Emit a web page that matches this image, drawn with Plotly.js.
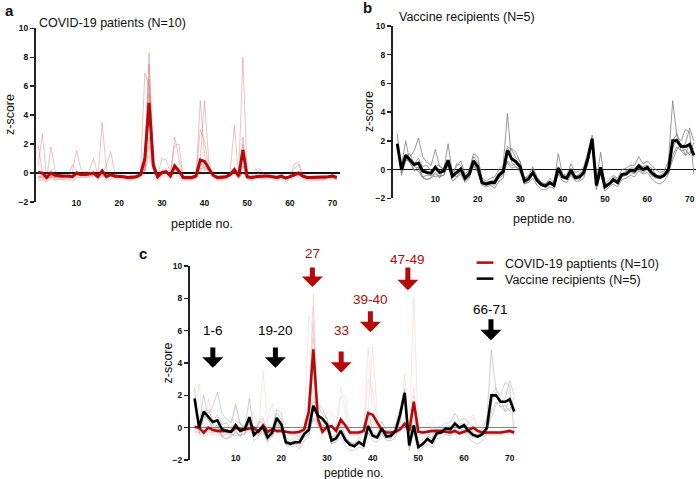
<!DOCTYPE html>
<html>
<head>
<meta charset="utf-8">
<script src="https://cdn.plot.ly/plotly-3.0.1.min.js"></script>
<style>html,body{margin:0;padding:0;background:#fff;}#chart{width:696px;height:479px;}</style>
</head>
<body>
<div id="chart"></div>
<script>
// ---- data ----
const peptides = [1,2,3,4,5,6,7,8,9,10,11,12,13,14,15,16,17,18,19,20,21,22,23,24,25,26,27,28,29,30,31,32,33,34,35,36,37,38,39,40,41,42,43,44,45,46,47,48,49,50,51,52,53,54,55,56,57,58,59,60,61,62,63,64,65,66,67,68,69,70,71];
const xTicks = [10,20,30,40,50,60,70];
const yTicks = [-2,0,2,4,6,8,10];

// COVID-19 patients: mean z-score
const covidMean = [0.05,0.0,-0.3,0.0,-0.15,-0.2,-0.2,-0.2,-0.25,0.0, -0.1,-0.1,-0.05,0.0,-0.25,0.15,-0.25,-0.1,-0.2,-0.2, -0.25,-0.3,-0.3,-0.25,-0.1,1.0,4.85,0.55,-0.25,0.05, 0.1,-0.2,0.5,0.15,-0.3,-0.3,-0.3,-0.2,0.9,0.8, 0.3,-0.15,-0.3,-0.3,-0.25,-0.1,0.25,-0.2,1.6,-0.25, -0.3,-0.25,-0.2,-0.2,-0.2,-0.25,-0.3,-0.2,-0.35,-0.25, -0.15,0.0,-0.2,-0.3,-0.3,-0.3,-0.3,-0.3,-0.25,-0.2,-0.3];
// COVID-19 patients: individuals
const p1 = [2.0,0.0,-0.4,-0.2,-0.3,-0.3,-0.3,-0.2,-0.3,-0.1, -0.2,-0.2,-0.1,-0.1,-0.3,0.0,-0.3,-0.2,-0.3,-0.3, -0.3,-0.4,-0.4,-0.3,-0.1,1.2,8.3,1.0,-0.3,0.0, 0.1,-0.3,0.5,0.2,-0.4,-0.4,-0.4,-0.3,5.0,1.2, 0.3,-0.2,-0.4,-0.4,-0.3,-0.2,0.2,-0.3,8.0,-0.3, -0.4,-0.3,-0.3,-0.3,-0.3,-0.3,-0.4,-0.3,-0.4,-0.3, -0.2,0.0,-0.3,-0.4,-0.4,-0.4,-0.4,-0.4,-0.3,-0.3,-0.4];
const p2 = [0.5,2.7,-0.3,0.0,-0.2,-0.3,-0.3,-0.3,-0.3,0.0, -0.1,-0.2,-0.1,0.0,-0.3,0.1,-0.3,-0.1,-0.3,-0.3, -0.3,-0.3,-0.3,-0.3,0.0,6.9,6.0,0.8,-0.3,0.1, 0.1,-0.2,0.4,0.1,-0.3,-0.3,-0.3,-0.2,1.0,5.0, 0.8,-0.2,-0.3,-0.3,-0.3,0.0,3.3,-0.3,2.5,-0.3, -0.3,-0.3,-0.2,-0.2,-0.2,-0.3,-0.3,-0.2,-0.4,-0.3, -0.2,0.0,-0.2,-0.3,-0.3,-0.3,-0.3,-0.3,-0.3,-0.2,-0.3];
const p3 = [-0.3,-0.2,-0.4,1.8,0.2,-0.3,-0.3,-0.3,-0.3,0.0, -0.2,-0.1,0.0,0.0,-0.3,3.5,0.2,-0.2,-0.3,-0.3, -0.3,-0.4,-0.4,-0.3,-0.2,0.8,7.5,0.6,-0.3,0.0, 0.0,-0.3,0.4,0.1,-0.4,-0.4,-0.4,-0.3,3.0,2.2, 0.4,-0.2,-0.4,-0.4,-0.3,-0.2,0.1,-0.3,2.0,-0.3, -0.4,-0.3,-0.3,-0.3,-0.3,-0.3,-0.4,-0.3,-0.4,-0.3, -0.2,-0.1,-0.3,-0.4,-0.4,-0.4,-0.4,-0.4,-0.3,-0.3,-0.4];
const p4 = [-0.2,-0.3,-0.4,-0.2,-0.3,-0.3,-0.3,-0.2,0.1,1.55, 0.3,-0.2,-0.2,-0.1,-0.3,0.0,0.5,1.5,0.0,-0.3, -0.3,-0.4,-0.4,-0.3,-0.2,0.5,6.5,0.5,-0.3,0.2, 0.3,-0.2,2.5,1.0,-0.4,-0.4,-0.4,-0.3,0.5,0.8, 0.4,-0.2,-0.4,-0.4,-0.3,-0.1,0.3,-0.3,1.5,-0.3, -0.4,-0.3,-0.2,-0.2,-0.2,-0.3,-0.4,-0.2,-0.4,-0.3, -0.1,0.0,-0.2,-0.3,-0.4,-0.4,-0.3,-0.4,-0.3,-0.2,-0.4];
const p5 = [0.1,0.0,-0.3,0.2,-0.1,-0.2,-0.2,-0.2,-0.2,0.1, -0.1,0.0,0.2,1.0,-0.2,0.2,-0.2,0.0,-0.1,-0.2, -0.2,-0.3,-0.3,-0.2,-0.1,0.6,5.5,0.4,-0.2,1.0, 0.9,0.0,1.9,2.0,-0.3,-0.3,-0.3,-0.2,0.6,0.5, 0.2,-0.1,-0.3,-0.3,-0.2,-0.1,0.2,-0.2,1.0,-0.2, -0.3,-0.2,-0.2,-0.2,-0.2,-0.2,-0.3,-0.2,-0.3,-0.2, -0.1,0.1,-0.2,-0.3,-0.3,-0.3,-0.3,-0.3,-0.2,-0.2,-0.3];
const p6 = [-0.4,-0.4,-0.5,-0.3,-0.4,-0.4,-0.4,-0.3,0.55,0.2, -0.2,-0.2,-0.2,-0.1,-0.4,0.0,-0.4,-0.2,-0.3,-0.3, -0.3,-0.4,-0.4,-0.3,-0.2,0.3,4.8,0.3,-0.4,-0.1, 0.0,-0.3,0.3,0.0,-0.4,-0.4,-0.4,-0.3,0.5,0.4, 0.2,-0.2,-0.4,-0.4,-0.3,-0.2,0.0,-0.3,0.5,-0.4, -0.4,-0.3,0.3,-0.1,-0.3,-0.3,-0.4,-0.3,-0.4,-0.3, 0.6,0.8,0.0,-0.3,-0.4,-0.4,-0.4,-0.4,-0.3,-0.3,-0.4];
const p7 = [0.0,-0.2,-0.3,-0.1,-0.2,-0.2,-0.2,-0.2,-0.3,-0.1, -0.1,0.1,0.0,0.1,-0.2,0.1,-0.2,-0.1,-0.2,-0.2, -0.2,-0.3,-0.3,-0.2,-0.1,0.4,4.0,0.3,-0.2,0.0, 0.1,-0.2,0.3,0.0,-0.3,-0.3,-0.3,-0.2,0.3,0.3, 0.2,-0.1,-0.3,-0.3,-0.2,-0.1,0.2,-0.2,0.5,-0.2, -0.3,0.3,-0.2,-0.2,-0.2,-0.2,-0.3,-0.2,-0.3,-0.2, 0.3,0.6,-0.2,-0.3,-0.3,-0.3,-0.3,-0.3,-0.2,-0.1,-0.3];
const p8 = [-0.5,-0.5,-0.6,-0.4,-0.5,-0.4,-0.5,-0.4,-0.6,-0.3, -0.3,-0.3,-0.3,-0.2,-0.5,-0.2,-0.5,-0.4,-0.4,-0.4, -0.4,-0.5,-0.5,-0.4,-0.3,0.2,2.5,0.2,-0.5,-0.2, -0.2,-0.4,0.0,-0.3,-0.5,-0.5,-0.5,-0.4,0.1,0.0, 0.0,-0.3,-0.5,-0.5,-0.4,-0.3,0.0,-0.4,0.0,-0.4, -0.5,-0.4,-0.4,-0.4,-0.4,-0.4,-0.5,-0.4,-0.6,-0.4, -0.3,-0.2,-0.4,-0.5,-0.5,-0.5,-0.5,-0.5,-0.4,-0.4,-0.5];
const p9 = [-0.3,-0.3,-0.4,-0.3,-0.3,-0.2,-0.2,-0.3,-0.4,-0.2, -0.2,-0.1,-0.2,-0.1,-0.3,-0.1,-0.3,-0.2,-0.3,-0.2, -0.3,-0.3,-0.3,-0.3,-0.2,0.1,1.2,0.2,-0.3,-0.1, 0.0,-0.3,0.2,0.0,-0.3,-0.3,-0.3,-0.2,0.2,0.2, 0.1,-0.2,-0.3,-0.3,-0.3,-0.2,0.1,-0.3,0.0,-0.3, -0.3,-0.3,-0.3,-0.3,-0.2,-0.3,-0.3,-0.3,-0.4,-0.3, -0.2,-0.1,-0.3,-0.3,-0.3,-0.3,-0.3,-0.3,-0.3,-0.2,-0.3];
const p10 = [0.1,-0.1,-0.2,0.0,-0.1,-0.2,-0.2,-0.2,-0.2,0.0, -0.1,-0.1,-0.1,0.0,-0.2,0.0,-0.2,-0.1,-0.2,-0.2, -0.2,-0.2,-0.2,-0.2,-0.1,0.2,1.9,0.3,-0.2,0.0, 0.1,-0.1,0.3,0.1,-0.2,-0.2,-0.2,-0.1,0.3,0.4, 0.2,-0.1,-0.2,-0.2,-0.2,-0.1,0.1,-0.2,0.0,-0.2, -0.2,-0.2,-0.2,-0.2,-0.2,-0.2,-0.2,-0.2,-0.3,-0.2, -0.1,0.0,-0.2,-0.2,-0.2,-0.2,-0.2,-0.2,-0.2,-0.1,-0.2];

// Vaccine recipients: mean z-score
const vaccMean = [1.8,0.0,1.0,0.7,0.35,0.45,-0.1,-0.2,-0.25,0.15, -0.2,-0.1,0.65,-0.45,-0.2,0.05,-0.6,-0.3,0.6,0.2, -0.9,-1.0,-0.9,-0.9,-0.4,-0.15,1.35,0.75,0.55,0.2, -0.8,-0.65,-0.2,-0.75,-1.05,-1.15,-0.9,-1.1,0.1,-0.5, -0.6,-0.05,-0.55,-0.5,-0.2,0.8,2.15,-1.1,0.15,-1.2, -1.0,-0.7,-0.9,-0.35,-0.3,-0.05,-0.1,0.25,0.0,0.15, -0.2,-0.45,-0.55,-0.4,0.0,2.0,2.0,1.6,1.6,1.75,1.0];
// Vaccine recipients: individuals
const v1 = [2.5,-0.4,0.6,0.9,1.3,2.2,0.9,0.5,0.3,1.4, 0.2,0.0,1.8,-0.2,0.2,0.6,-0.3,0.0,1.1,0.9, -0.6,-0.8,-0.6,-0.5,0.0,0.3,3.9,0.5,0.2,0.0, -0.6,-0.4,0.2,-0.5,-0.9,-1.0,-0.6,-0.9,1.1,-0.3, -0.4,0.4,-0.2,-0.1,0.2,1.2,2.4,-0.8,1.2,-1.0, -0.7,-0.4,-0.6,0.0,0.1,0.3,0.3,0.9,0.4,0.6, 0.3,0.0,-0.2,-0.1,0.6,4.8,2.3,2.0,2.8,2.6,-0.3];
const v2 = [1.6,0.3,2.0,0.5,0.2,0.1,-0.5,-0.7,-0.6,-0.3, -0.5,-0.4,0.3,-0.8,-0.6,-0.3,-0.9,-0.6,0.3,-0.1, -1.1,-1.2,-1.1,-1.3,-0.8,-0.6,1.0,1.5,1.2,0.5, -1.0,-0.9,-0.6,-1.1,-1.4,-1.4,-1.2,-1.3,-0.3,-0.8, -0.9,-0.4,-0.8,-0.8,-0.6,0.4,2.0,-1.4,-0.3,-1.5, -1.2,-1.0,-1.2,-0.7,-0.6,-0.4,-0.5,-0.1,-0.3,-0.2, -0.6,-0.9,-1.0,-0.8,-0.3,1.5,2.2,1.3,1.0,1.2,1.5];
const v3 = [1.7,-0.2,0.9,1.1,0.4,0.8,0.2,0.3,-0.1,0.3, 0.3,0.0,0.5,-0.6,0.4,0.3,-0.4,-0.2,0.9,0.5, -0.8,-0.9,-0.8,-0.7,-0.2,0.0,1.6,1.4,0.8,0.6, -0.6,-0.5,-0.1,-0.6,-0.9,-1.2,-1.0,-1.1,-0.1,-0.4, -0.5,0.1,-0.5,-0.3,0.0,1.0,2.2,-1.2,-0.2,-1.3, -1.1,-0.8,-1.0,-0.3,-0.4,0.0,-0.1,0.4,0.2,0.3, 0.1,-0.3,-0.6,-0.5,0.1,2.0,2.5,1.6,1.8,2.9,2.0];
const v4 = [1.5,0.3,0.8,0.5,0.0,-0.1,-0.6,-0.7,-0.5,-0.2, -0.6,0.2,0.2,-0.5,-0.5,-0.2,-0.8,-0.5,0.2,-0.1, -1.0,-1.1,-1.0,-0.9,-0.6,-0.4,0.6,0.3,0.4,0.1, -1.0,-0.8,-0.3,-0.8,-1.1,-1.2,-0.9,-1.2,-0.3,-0.6, -0.7,-0.3,-0.7,-0.6,-0.4,0.5,2.0,-1.1,0.0,-1.2, -1.0,-0.8,-1.0,-0.5,-0.4,-0.2,-0.3,0.0,-0.2,0.0, -0.4,-0.6,-0.6,-0.4,-0.3,1.0,1.6,1.3,1.4,1.0,1.9];
const v5 = [1.7,0.0,0.7,0.5,-0.1,0.2,-0.5,-0.4,-0.4,-0.5, -0.4,-0.4,0.5,-0.2,-0.5,-0.1,-0.6,-0.2,0.5,-0.2, -1.0,-1.0,-1.0,-1.1,-0.4,-0.1,0.5,0.1,0.2,-0.2, -0.8,-0.6,-0.2,-0.8,-0.9,-1.0,-0.8,-1.0,0.2,-0.4, -0.5,-0.1,-0.5,-0.7,-0.2,0.9,2.2,-1.0,0.1,-1.0, -1.0,-0.5,-0.7,-0.3,-0.1,0.1,0.1,0.1,-0.1,0.1, -0.4,-0.5,-0.4,-0.2,-0.1,0.7,1.4,1.8,1.0,1.9,0.9];

// Panel c callouts
const calloutLabels = ['1-6','19-20','27','33','39-40','47-49','66-71'];
const calloutGroup  = ['v','v','c','c','c','c','v'];
const calloutX      = [5, 18.7, 26.8, 33.1, 39.5, 47.7, 65.9];
const calloutTail   = [5.05, 5.05, 10.0, 4.8, 7.3, 10.0, 6.8];
const calloutTip    = [3.7, 3.7, 8.7, 3.4, 5.9, 8.5, 5.4];
const calloutTextY  = [6.0, 6.0, 10.75, 6.0, 7.9, 10.4, 7.3];

const legendNames = ['COVID-19 paptients (N=10)', 'Vaccine recipients (N=5)'];

// ---- styling ----
const FONT = 'Liberation Sans, Arial, Helvetica, sans-serif';
const RED = '#b50a0a';
const covidInd = [p1,p2,p3,p4,p5,p6,p7,p8,p9,p10];
const vaccInd = [v1,v2,v3,v4,v5];

const traces = [];
function line(y, xa, ya, color, width) {
  traces.push({x: peptides, y: y, xaxis: xa, yaxis: ya, type: 'scatter', mode: 'lines',
    line: {color: color, width: width}, showlegend: false, hoverinfo: 'skip'});
}
// panel a
covidInd.forEach(s => line(s, 'x', 'y', 'rgba(200,70,70,0.33)', 1));
line(covidMean, 'x', 'y', RED, 3);
// panel b
vaccInd.forEach(s => line(s, 'x2', 'y2', 'rgba(120,120,120,0.75)', 1));
line(vaccMean, 'x2', 'y2', '#000', 3);
// panel c
covidInd.forEach(s => line(s, 'x3', 'y3', 'rgba(215,120,120,0.2)', 0.9));
vaccInd.forEach(s => line(s, 'x3', 'y3', 'rgba(140,140,140,0.45)', 0.9));
line(covidMean, 'x3', 'y3', RED, 2.6);
line(vaccMean, 'x3', 'y3', '#000', 2.6);
// legend entries (one legend box per row)
[RED, '#000'].forEach((c, i) => traces.push({
  x: [null], y: [null], xaxis: 'x3', yaxis: 'y3', type: 'scatter', mode: 'markers',
  name: legendNames[i], showlegend: true, legend: i === 0 ? 'legend' : 'legend2',
  marker: {symbol: 'line-ew', size: 12, color: c, line: {color: c, width: 2.5}}
}));

function xax(domain, range, pos) {
  return {domain: domain, range: range, anchor: 'free', position: pos,
    showline: false, ticks: '', showgrid: false, zeroline: false,
    tickvals: xTicks, tickfont: {family: FONT, size: 8.5, color: '#111', weight: 'bold'}};
}
function yax(domain, anchor, zc) {
  return {domain: domain, range: [-2, 10], anchor: anchor, showline: true, linewidth: 2, linecolor: '#222',
    ticks: 'outside', ticklen: 4, tickwidth: 1.5, tickcolor: '#222', showgrid: false,
    zeroline: true, zerolinecolor: zc, zerolinewidth: 1.6,
    tickvals: yTicks, tickfont: {family: FONT, size: 8.5, color: '#111', weight: 'bold'}};
}

function paperText(x, y, text, size, opts) {
  return Object.assign({xref: 'paper', yref: 'paper', x: x / 696, y: 1 - y / 479, text: text,
    showarrow: false, xanchor: 'center', yanchor: 'middle',
    font: {family: FONT, size: size, color: '#111'}}, opts || {});
}

const annotations = [
  paperText(3, 10, '<b>a</b>', 15, {xanchor: 'left'}),
  paperText(361, 8, '<b>b</b>', 15, {xanchor: 'left'}),
  paperText(137, 253, '<b>c</b>', 15, {xanchor: 'left'}),
  paperText(37, 23, 'COVID-19 patients (N=10)', 12.5, {xanchor: 'left'}),
  paperText(397, 17, 'Vaccine recipients (N=5)', 12.5, {xanchor: 'left'}),
  // axis titles
  paperText(10, 115, 'z-score', 12.5, {textangle: -90}),
  paperText(369, 112, 'z-score', 12.5, {textangle: -90}),
  paperText(167.5, 363, 'z-score', 12.5, {textangle: -90}),
  paperText(202, 224, 'peptide no.', 12.5),
  paperText(544, 219, 'peptide no.', 12.5),
  paperText(353, 472.5, 'peptide no.', 12)
];
calloutLabels.forEach((lab, i) => {
  const col = calloutGroup[i] === 'c' ? RED : '#000';
  annotations.push({xref: 'x3', yref: 'y3', axref: 'x3', ayref: 'y3',
    x: calloutX[i], y: calloutTip[i], ax: calloutX[i], ay: calloutTail[i],
    text: '', showarrow: true, arrowhead: 1, arrowwidth: 5, arrowsize: 0.7, arrowcolor: col, standoff: 0});
  // labels above the y range are placed via the y3 domain so they are not culled
  const yv = calloutTextY[i];
  const lbl = {xref: 'x3', x: calloutX[i], text: lab,
    showarrow: false, xanchor: 'center', yanchor: 'middle', font: {family: FONT, size: 13.5, color: col}};
  if (yv > 10) { lbl.yref = 'y3 domain'; lbl.y = (yv + 2) / 12; }
  else { lbl.yref = 'y3'; lbl.y = yv; }
  annotations.push(lbl);
});

const legStyle = {xanchor: 'left', yanchor: 'middle', bgcolor: 'rgba(0,0,0,0)',
  font: {family: FONT, size: 12.5, color: '#111'}, itemwidth: 30};

const layout = {
  width: 696, height: 479, margin: {l: 0, r: 0, t: 0, b: 0},
  paper_bgcolor: '#fff', plot_bgcolor: 'rgba(0,0,0,0)',
  font: {family: FONT},
  showlegend: true,
  legend: Object.assign({x: 465/696, y: 1 - 263/479}, legStyle),
  legend2: Object.assign({x: 465/696, y: 1 - 279/479}, legStyle),
  xaxis: xax([36/696, 340/696], [0.5, 71.75], 1 - 196/479),
  yaxis: yax([1 - 202/479, 1 - 28.3/479], 'x', '#111'),
  xaxis2: xax([393/696, 1], [0, 71.5], 1 - 192.3/479),
  yaxis2: yax([1 - 198.3/479, 1 - 26/479], 'x2', '#111'),
  xaxis3: xax([190/696, 517/696], [0, 71.6], 1 - 451.5/479),
  yaxis3: yax([1 - 460/479, 1 - 266/479], 'x3', '#808080'),
  annotations: annotations
};

Plotly.newPlot('chart', traces, layout, {staticPlot: true, displayModeBar: false});
</script>
</body>
</html>
